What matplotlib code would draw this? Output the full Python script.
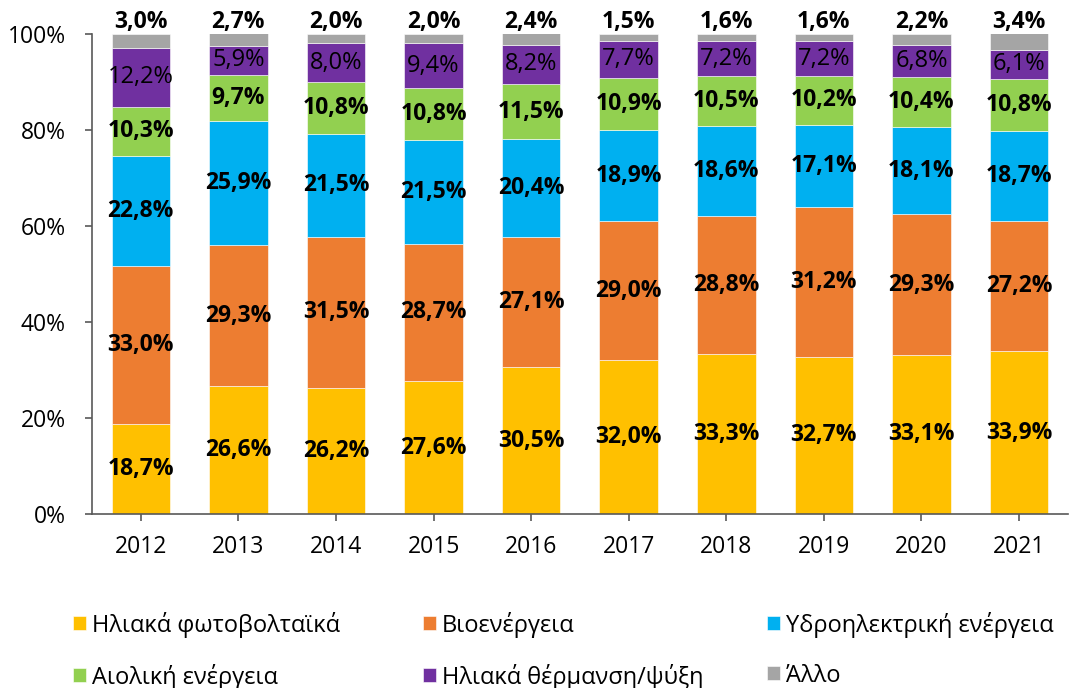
import matplotlib
matplotlib.use('Agg')
import matplotlib.pyplot as plt
import numpy as np

# shares per year (%)
years = ['2012', '2013', '2014', '2015', '2016', '2017', '2018', '2019', '2020', '2021']
solarPV = [18.7, 26.6, 26.2, 27.6, 30.5, 32.0, 33.3, 32.7, 33.1, 33.9]
bioEnergy = [33.0, 29.3, 31.5, 28.7, 27.1, 29.0, 28.8, 31.2, 29.3, 27.2]
hydro = [22.8, 25.9, 21.5, 21.5, 20.4, 18.9, 18.6, 17.1, 18.1, 18.7]
wind = [10.3, 9.7, 10.8, 10.8, 11.5, 10.9, 10.5, 10.2, 10.4, 10.8]
solarThermal = [12.2, 5.9, 8.0, 9.4, 8.2, 7.7, 7.2, 7.2, 6.8, 6.1]
other = [3.0, 2.7, 2.0, 2.0, 2.4, 1.5, 1.6, 1.6, 2.2, 3.4]

seriesNames = ['Ηλιακά φωτοβολταϊκά', 'Βιοενέργεια', 'Υδροηλεκτρική ενέργεια',
               'Αιολική ενέργεια', 'Ηλιακά θέρμανση/ψύξη', 'Άλλο']
seriesColors = ['#FFC000', '#ED7D31', '#00B0F0', '#92D050', '#7030A0', '#A5A5A5']

plt.rcParams['font.family'] = ['Open Sans', 'DejaVu Sans']


def fmt(v):
    return ('%.1f%%' % v).replace('.', ',')


def main():
    series = [solarPV, bioEnergy, hydro, wind, solarThermal, other]
    fig = plt.figure(figsize=(10.7, 6.88), dpi=100)
    ax = fig.add_axes([0.086, 0.253, 0.912, 0.698])

    x = np.arange(len(years))
    bottom = np.zeros(len(years))
    handles = []
    for i, vals in enumerate(series):
        vals = np.array(vals)
        bars = ax.bar(x, vals, 0.6, bottom=bottom, color=seriesColors[i],
                      edgecolor='white', linewidth=0.4, label=seriesNames[i])
        handles.append(bars)
        for j in range(len(years)):
            if i == 5:
                # small grey segment -> label sits on top of the bar
                ax.text(x[j], 100, fmt(vals[j]), ha='center', va='bottom',
                        fontsize=16.5, fontweight='bold')
            else:
                ax.text(x[j], bottom[j] + vals[j] / 2, fmt(vals[j]), ha='center',
                        va='center', fontsize=16.5 if i != 4 else 17,
                        fontweight='normal' if i == 4 else 'bold')
        bottom += vals

    ax.set_xlim(-0.5, len(years) - 0.5)
    ax.set_ylim(0, 100)
    ax.set_yticks(range(0, 101, 20))
    ax.set_yticklabels(['%d%%' % t for t in range(0, 101, 20)])
    ax.set_xticks(x)
    ax.set_xticklabels(years)
    ax.tick_params(axis='both', labelsize=16.5, color='#595959', length=5, width=1.2)
    ax.tick_params(axis='x', pad=10)
    ax.tick_params(axis='y', pad=14)
    for s in ['top', 'right']:
        ax.spines[s].set_visible(False)
    for s in ['left', 'bottom']:
        ax.spines[s].set_color('#595959')
        ax.spines[s].set_linewidth(1.2)

    # legend: three columns, two rows each
    colX = [0.068, 0.395, 0.717]
    for c in range(3):
        hs = [handles[c], handles[c + 3]]
        fig.legend(hs, [seriesNames[c], seriesNames[c + 3]], loc='upper left',
                   bbox_to_anchor=(colX[c], 0.111), frameon=False, fontsize=17,
                   handlelength=0.55, handleheight=0.55, handletextpad=0.25,
                   labelspacing=1.1, borderaxespad=0, borderpad=0)

    fig.savefig('out.png', dpi=100)


if __name__ == '__main__':
    main()
